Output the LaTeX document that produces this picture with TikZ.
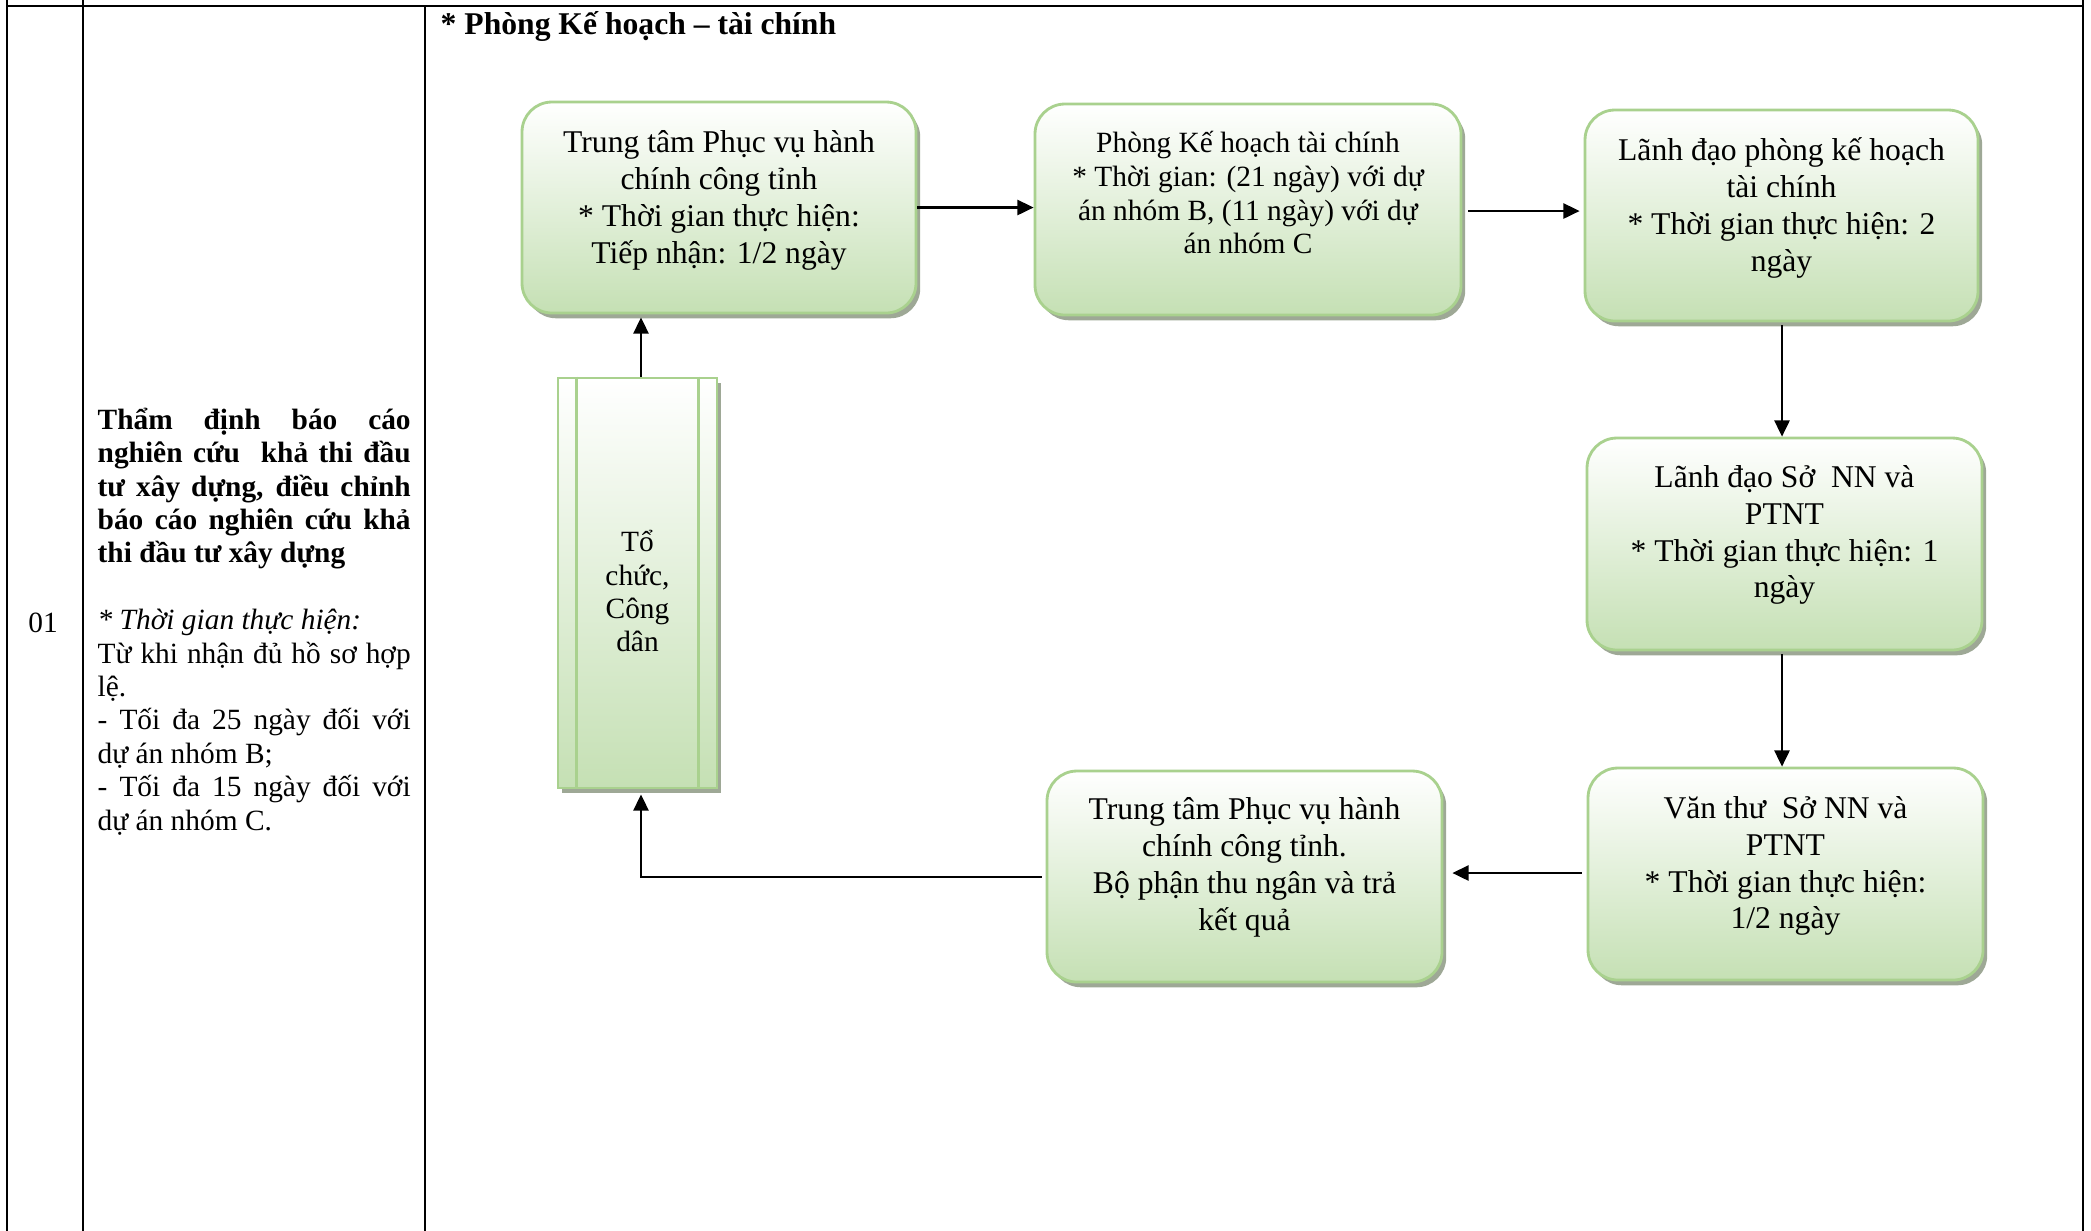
\documentclass[tikz,border=0pt]{standalone}
\usepackage{fontspec}
\setmainfont{Liberation Serif}
\usetikzlibrary{arrows.meta,shadows,calc}
\definecolor{gborder}{RGB}{169,209,142}
\definecolor{gfill}{RGB}{197,224,180}
\definecolor{gshadow}{RGB}{158,168,150}
\newcommand{\jline}[1]{\makebox[31.3mm][s]{#1}}
\newcommand{\jbold}[1]{\makebox[31.3mm][s]{\bfseries #1}}
\begin{document}
\begin{tikzpicture}[x=0.1mm,y=-0.1mm,
  basebox/.style={draw=gborder, line width=0.8pt, top color=white, bottom color=gfill,
    drop shadow={shadow xshift=1.2pt, shadow yshift=-1.5pt, fill=gshadow, opacity=1},
    inner sep=0pt},
  gbox/.style={basebox, rounded corners=8.5pt},
  boxtxt/.style={align=center, font=\fontsize{9}{10.5}\selectfont, inner sep=0pt},
  boxtxtsmall/.style={align=center, font=\fontsize{8.36}{9.67}\selectfont, inner sep=0pt},
  arr/.style={-{Triangle[length=4.6pt,width=4.3pt]}, line width=0.6pt},
  tline/.style={line width=0.6pt, line cap=rect}]
\useasboundingbox (0,0) rectangle (2091,1230);
\fill[white] (0,0) rectangle (2091,1230);

% table lines
\draw[tline] (7,0) -- (7,1230);
\draw[tline] (83,0) -- (83,1230);
\draw[tline] (425,6) -- (425,1230);
\draw[tline] (2083,0) -- (2083,1230);
\draw[tline] (7,6) -- (2083,6);

% column texts
\node[anchor=base, inner sep=0pt, font=\fontsize{8.36}{9.5}\selectfont] (num) at (43,632) {01};
\node[anchor=base west, inner sep=0pt, align=left, font=\fontsize{8.36}{9.5}\selectfont] (desc) at (97,830)
 {\jbold{Thẩm định báo cáo}\\
  \jbold{nghiên cứu\ \ khả thi đầu}\\
  \jbold{tư xây dựng, điều chỉnh}\\
  \jbold{báo cáo nghiên cứu khả}\\
  {\bfseries thi đầu tư xây dựng}\\[9.5pt]
  {\itshape * Thời gian thực hiện:}\\
  \jline{Từ khi nhận đủ hồ sơ hợp}\\
  lệ.\\
  \jline{- Tối đa 25 ngày đối với}\\
  dự án nhóm B;\\
  \jline{- Tối đa 15 ngày đối với}\\
  dự án nhóm C.};

% title
\node[anchor=base west, inner sep=0pt, font=\bfseries\fontsize{9}{10.5}\selectfont] (title) at (440,34)
 {* Phòng Kế hoạch – tài chính};

% boxes
\node[gbox, minimum width=39.4mm, minimum height=21.1mm] (b1) at (719,207.5) {};
\node[gbox, minimum width=42.6mm, minimum height=21.1mm] (b2) at (1248,209.5) {};
\node[gbox, minimum width=39.3mm, minimum height=21.1mm] (b3) at (1781.5,215.5) {};
\node[gbox, minimum width=39.5mm, minimum height=21.2mm] (b4) at (1784.5,544) {};
\node[gbox, minimum width=39.5mm, minimum height=21.2mm] (b5) at (1785.5,874) {};
\node[gbox, minimum width=39.5mm, minimum height=21.1mm] (b6) at (1244.5,876.5) {};
\node[basebox, minimum width=15.9mm, minimum height=41mm] (tc) at (637.5,583) {};
\draw[draw=gborder, line width=0.8pt] ($(tc.north west)+(20,0)$) -- ($(tc.south west)+(20,0)$);
\draw[draw=gborder, line width=0.8pt] ($(tc.north east)+(-20,0)$) -- ($(tc.south east)+(-20,0)$);

% box texts
\node[boxtxt] (b1t) at (719,200.5) {Trung tâm Phục vụ hành\\chính công tỉnh\\* Thời gian thực hiện:\\Tiếp nhận: 1/2 ngày};
\node[boxtxtsmall] (b2t) at (1248,192.5) {Phòng Kế hoạch tài chính\\* Thời gian: (21 ngày) với dự\\án nhóm B, (11 ngày) với dự\\án nhóm C};
\node[boxtxt] (b3t) at (1781.5,208) {Lãnh đạo phòng kế hoạch\\tài chính\\* Thời gian thực hiện: 2\\ngày};
\node[boxtxt] (b4t) at (1784.5,535) {Lãnh đạo Sở\ \ NN và\\PTNT\\* Thời gian thực hiện: 1\\ngày};
\node[boxtxt] (b5t) at (1785.5,866) {Văn thư\ \ Sở NN và\\PTNT\\* Thời gian thực hiện:\\1/2 ngày};
\node[boxtxt] (b6t) at (1244.5,867) {Trung tâm Phục vụ hành\\chính công tỉnh.\\Bộ phận thu ngân và trả\\kết quả};
\node[align=center, inner sep=0pt, font=\fontsize{8.36}{9.4}\selectfont] (tct) at (637.5,591) {Tổ\\chức,\\Công\\dân};

% connectors
\draw[arr] (b1.east) -- (b1.east -| b2.west);
\coordinate (s23) at ($(b2.east)+(6,1.5)$);
\draw[arr] (s23) -- ($(s23 -| b3.west)+(-4,0)$);
\coordinate (s34) at ($(b3.south)+(0.5,3)$);
\draw[arr] (s34) -- (s34 |- b4.north);
\coordinate (s45) at ($(b4.south)+(-2.5,3)$);
\draw[arr] (s45) -- (s45 |- b5.north);
\coordinate (s56) at ($(b5.west)+(-5,-1)$);
\draw[arr] (s56) -- ($(s56 -| b6.east)+(9,0)$);
\coordinate (s6t) at ($(b6.west)+(-4,0.5)$);
\coordinate (e6t) at ($(tc.south)+(3.5,5)$);
\draw[arr] (s6t) -| (e6t);
\coordinate (st1) at ($(tc.north)+(3.5,0)$);
\draw[arr] (st1) -- ($(st1 |- b1.south)+(0,3)$);
\end{tikzpicture}
\end{document}
